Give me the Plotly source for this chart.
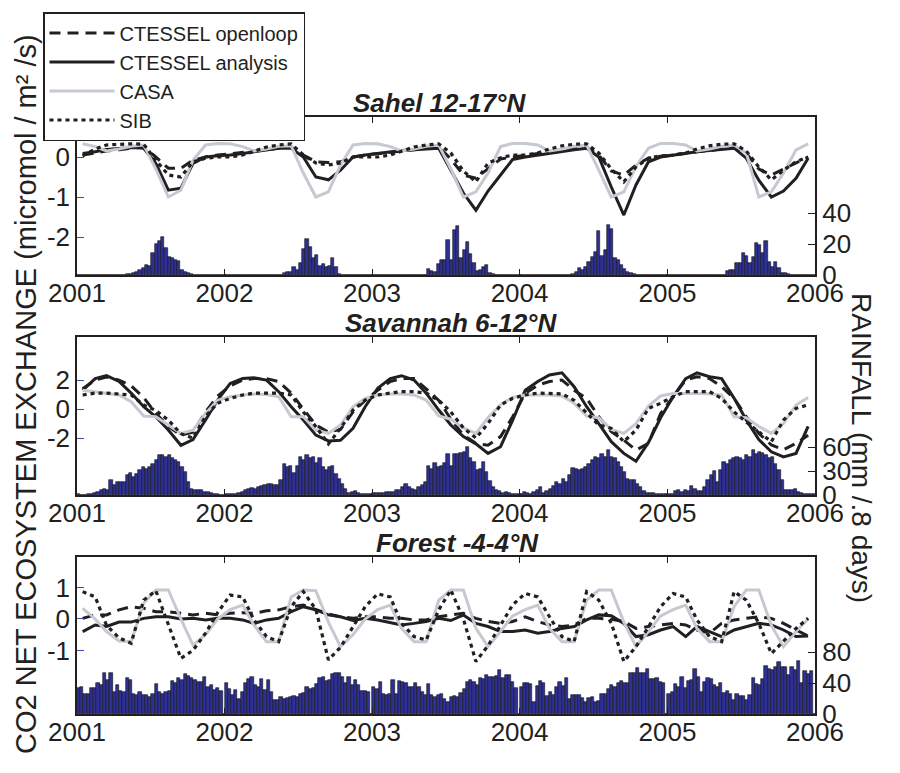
import pandas as pd
import plotly.graph_objects as go

YEARS = [2001, 2002, 2003, 2004, 2005]
YEAR_TICKS = ["2001", "2002", "2003", "2004", "2005", "2006"]
SERIES = ["CTESSEL openloop", "CTESSEL analysis", "CASA", "SIB"]
REGIONS = ["Sahel 12-17°N", "Savannah 6-12°N", "Forest -4-4°N"]

# ---- monthly NEE (micromol / m2 / s), Jan 2001 .. Dec 2005 ----
sahel_openloop = [
    0.05, 0.1, 0.15, 0.18, 0.22, 0.26, 0.0, -0.28, -0.28, -0.08, 0.0, 0.05,
    0.08, 0.12, 0.15, 0.18, 0.22, 0.25, 0.05, -0.12, -0.14, -0.12, 0.0, 0.05,
    0.08, 0.12, 0.15, 0.18, 0.22, 0.25, -0.05, -0.45, -0.53, -0.3, -0.05, 0.0,
    0.05, 0.1, 0.13, 0.16, 0.2, 0.24, 0.05, -0.35, -0.45, -0.2, -0.03, 0.02,
    0.05, 0.1, 0.13, 0.16, 0.2, 0.24, 0.1, -0.3, -0.45, -0.3, -0.15, 0.0]
sahel_analysis = [
    0.09, 0.13, 0.19, 0.22, 0.24, 0.22, -0.16, -0.83, -0.78, -0.16, 0.0, 0.03,
    0.05, 0.09, 0.13, 0.17, 0.22, 0.22, 0.0, -0.5, -0.57, -0.33, 0.0, 0.05,
    0.09, 0.13, 0.16, 0.18, 0.2, 0.22, -0.33, -0.9, -1.33, -0.85, -0.45, -0.06,
    0.0, 0.05, 0.1, 0.14, 0.18, 0.22, 0.0, -0.75, -1.45, -0.7, -0.12, 0.0,
    0.05, 0.09, 0.13, 0.16, 0.19, 0.22, -0.03, -0.58, -1.0, -0.85, -0.53, -0.03]
sahel_casa = [
    0.33, 0.26, 0.15, 0.2, 0.27, 0.3, -0.3, -1.0, -0.83, -0.08, 0.3, 0.34,
    0.33, 0.26, 0.15, 0.2, 0.27, 0.28, -0.4, -1.0, -0.87, -0.2, 0.3, 0.34,
    0.33, 0.26, 0.15, 0.2, 0.27, 0.3, -0.3, -1.0, -0.87, -0.4, 0.26, 0.34,
    0.34, 0.3, 0.15, 0.2, 0.27, 0.3, -0.33, -1.0, -0.87, -0.24, 0.22, 0.34,
    0.34, 0.3, 0.15, 0.2, 0.27, 0.3, 0.1, -1.0, -0.87, -0.4, 0.18, 0.33]
sahel_sib = [
    0.03, 0.2, 0.3, 0.32, 0.33, 0.32, -0.08, -0.45, -0.5, -0.12, -0.03, 0.0,
    0.0, 0.05, 0.15, 0.25, 0.3, 0.33, 0.05, -0.15, -0.2, -0.15, 0.0, 0.0,
    0.0, 0.05, 0.15, 0.25, 0.3, 0.33, 0.1, -0.35, -0.62, -0.15, -0.02, 0.05,
    0.05, 0.1, 0.2, 0.28, 0.32, 0.33, 0.1, -0.3, -0.62, -0.25, -0.03, 0.03,
    0.05, 0.1, 0.2, 0.28, 0.32, 0.33, 0.15, -0.25, -0.57, -0.33, -0.12, 0.0]

savannah_openloop = [
    1.4, 2.0, 2.2, 2.0, 1.6, 0.8, -0.3, -1.2, -1.8, -1.6, -0.2, 0.9,
    1.6, 2.0, 2.1, 2.1, 1.9, 1.1, 0.0, -1.1, -1.6, -1.4, -0.2, 0.6,
    1.3, 1.9, 2.1, 2.1, 1.4, 0.6, -0.7, -1.8, -2.37, -2.5, -1.9, -0.53,
    1.08, 1.65, 1.9, 2.0, 1.3, 0.74, -0.53, -1.56, -2.14, -2.83, -2.37, -0.3,
    0.85, 2.0, 2.23, 2.1, 1.54, 0.74, -0.53, -1.68, -2.48, -2.8, -2.37, -1.8]
savannah_analysis = [
    1.3, 2.1, 2.3, 1.9, 1.1, 0.16, -0.53, -1.45, -2.5, -2.1, -0.76, 0.62,
    1.77, 2.1, 2.15, 2.0, 1.2, 0.16, -0.76, -1.8, -2.2, -2.15, -1.33, 0.16,
    1.43, 2.1, 2.3, 2.0, 1.1, -0.07, -1.1, -1.9, -2.4, -3.06, -2.6, -0.76,
    1.3, 1.9, 2.35, 2.5, 1.54, 0.16, -1.0, -2.25, -3.06, -3.6, -2.3, -0.6,
    0.85, 2.1, 2.5, 2.23, 2.1, 0.74, -0.76, -2.1, -2.95, -3.3, -3.06, -1.2]
savannah_casa = [
    1.3, 1.2, 1.1, 0.97, 0.5, -0.48, -0.53, -1.1, -1.68, -1.45, -0.3, 0.6,
    0.85, 0.97, 1.03, 1.0, 0.85, -0.53, -0.53, -1.45, -1.68, -1.1, 0.16, 0.74,
    0.97, 1.03, 1.03, 0.97, 0.62, -0.48, -0.7, -1.3, -1.68, -0.6, 0.3, 0.8,
    0.97, 0.97, 0.97, 0.9, 0.4, -0.48, -0.6, -1.4, -1.68, -1.0, 0.2, 0.9,
    1.08, 1.08, 1.08, 1.05, 0.95, -0.53, -0.6, -1.2, -1.68, -1.0, 0.28, 0.8]
savannah_sib = [
    0.97, 1.1, 1.1, 1.05, 0.97, 0.28, -0.1, -0.76, -1.7, -2.0, -0.5, 0.4,
    0.74, 0.97, 1.1, 1.1, 1.1, 0.97, -0.2, -1.2, -2.4, -1.33, -0.07, 0.62,
    0.97, 1.1, 1.2, 1.2, 1.1, 0.6, -0.2, -1.3, -2.0, -1.0, 0.28, 0.74,
    0.97, 1.1, 1.1, 1.05, 0.6, -0.3, -1.1, -1.33, -2.25, -1.45, 0.05, 0.4,
    0.85, 1.2, 1.2, 1.2, 0.74, -0.2, -0.9, -1.6, -2.25, -0.76, 0.05, 0.28]

forest_openloop = [
    0.02, 0.13, 0.13, 0.29, 0.39, 0.34, 0.23, 0.23, 0.18, 0.13, 0.18, 0.13,
    0.18, 0.2, 0.18, 0.26, 0.29, 0.39, 0.44, 0.29, 0.16, 0.07, 0.02, 0.07,
    0.07, 0.02, 0.02, -0.03, -0.03, 0.07, 0.13, 0.18, 0.02, -0.08, -0.14, -0.08,
    0.07, -0.08, -0.19, -0.24, -0.19, 0.02, 0.02, -0.01, -0.08, -0.3, -0.24, -0.19,
    -0.14, -0.19, -0.35, -0.45, -0.14, -0.03, 0.02, 0.07, 0.02, -0.14, -0.35, -0.54]
forest_analysis = [
    -0.4, -0.19, -0.24, -0.1, -0.1, 0.02, 0.07, 0.07, 0.0, 0.02, -0.03, 0.02,
    0.02, -0.03, -0.14, -0.03, 0.02, 0.23, 0.39, 0.29, 0.13, 0.07, -0.05, 0.02,
    -0.03, -0.12, -0.19, -0.14, -0.08, 0.02, -0.05, 0.13, -0.14, -0.24, -0.4, -0.4,
    -0.35, -0.45, -0.4, -0.3, -0.24, -0.03, 0.13, 0.1, -0.14, -0.56, -0.5, -0.35,
    -0.24, -0.56, -0.24, -0.4, -0.56, -0.35, -0.24, -0.14, -0.19, -0.35, -0.56, -0.54]
forest_casa = [
    0.34, 0.0, -0.4, -0.7, -0.72, 0.5, 0.92, 0.92, 0.0, -0.83, -0.5, 0.0,
    0.3, 0.44, -0.2, -0.72, -0.72, 0.7, 0.92, 0.9, -0.1, -0.88, -0.5, 0.0,
    0.3, 0.44, -0.3, -0.72, -0.72, 0.6, 0.92, 0.92, -0.3, -0.88, -0.4, 0.1,
    0.3, 0.44, -0.3, -0.72, -0.72, 0.6, 0.92, 0.92, -0.1, -0.88, -0.4, 0.1,
    0.3, 0.44, -0.3, -0.72, -0.72, 0.4, 0.92, 0.92, -0.2, -0.88, -0.4, 0.0]
forest_sib = [
    0.87, 0.7, -0.2, -0.6, -0.77, 0.6, 0.9, -0.14, -1.25, -1.0, -0.45, 0.2,
    0.76, 0.7, -0.03, -0.56, -0.72, 0.39, 0.87, 0.3, -1.3, -0.9, -0.25, 0.39,
    0.8, 0.7, -0.14, -0.56, -0.67, 0.29, 0.92, 0.0, -1.35, -0.85, -0.2, 0.45,
    0.81, 0.7, 0.07, -0.56, -0.72, 0.87, 0.6, -0.14, -1.35, -0.88, -0.25, 0.39,
    0.81, 0.7, -0.03, -0.56, -0.72, 0.87, 0.6, -0.14, -1.1, -0.7, -0.3, 0.02]

# ---- 8-day rainfall (mm / 8 days), 46 periods per year ----
sahel_rain = (
    [0] * 15 + [0.5, 0.5, 1, 2.2, 3.2, 4.7, 6.2, 6, 14, 20, 22, 24.7, 17.6, 11.8,
                10.8, 9.7, 9, 3.2, 2.2, 1, 0.5] + [0] * 10
    + [0] * 18 + [1, 2, 2, 5, 3, 7.5, 16.5, 23, 18, 11, 13, 6, 7, 5, 6, 11, 5, 0.6] + [0] * 10
    + [0] * 17 + [3.9, 2.8, 2, 7, 10, 10, 22.6, 9.7, 29, 31.6, 10.8, 16, 21.5, 13.5,
                  7.5, 2.6, 3.2, 5.4, 6.7, 1.5, 0.5] + [0] * 8
    + [0] * 16 + [0.6, 2, 4.7, 3.2, 5.4, 8.6, 11.4, 14.6, 28.6, 12.2, 16, 32, 29.5,
                  10.8, 10, 6.5, 3.9, 2, 1, 0.5] + [0] * 10
    + [0] * 18 + [2.8, 3.2, 3.2, 8, 8, 14.4, 12.2, 7.5, 11.8, 20.4, 19.4, 14, 22.2,
                  8.6, 5.4, 8.6, 4.3, 1.5, 1, 0.5] + [0] * 8
)
savannah_rain = [
    1, 0.5, 0.5, 1, 1.5, 3, 4, 5.7, 7, 5.7, 19, 12, 16, 16, 16, 24.7, 27.6, 22.6, 26, 31,
    35, 33, 35, 39.5, 44.5, 50, 50, 47.9, 50, 45.8, 44.5, 41.6, 35, 29, 16, 7.8, 6.5, 5.7,
    5.7, 4.4, 4.4, 2.3, 1.5, 1.5, 0.5, 0.5,
    1, 1, 1, 1, 2, 3.6, 5.7, 7.8, 8.5, 7.8, 10, 10.8, 12, 13.3, 14, 12, 12, 18.4, 38.6, 35,
    36, 27.6, 37, 47.9, 43.7, 50, 45.8, 47.9, 40.3, 45.8, 35, 31, 35, 37, 26.8, 20.5, 14,
    7.8, 2.3, 3.6, 4.9, 2.3, 1, 1, 1, 1,
    2, 2, 2, 2, 4.4, 4.4, 4.4, 5.7, 6.5, 10, 14, 10, 7.8, 6.5, 10, 12, 16, 37, 32, 40,
    35, 37, 40, 52, 37, 52, 52, 53, 54, 59.7, 45.8, 41.6, 31, 33, 41.6, 29, 17.5, 10, 5.7,
    4.9, 2.3, 3.6, 2.3, 1.3, 1, 1,
    1, 3.6, 2.3, 1, 3.6, 5.7, 10, 2.3, 4.9, 7.8, 10.8, 16, 14, 20.5, 16, 24.7, 34.4, 32.3,
    31, 32, 35, 39.5, 43.7, 47.9, 45.8, 52, 47.9, 56.3, 47.9, 47, 41.6, 35, 29, 20.5, 18.4,
    19, 14, 10, 4.9, 2.3, 2.3, 2.3, 1, 1, 1, 1,
    1, 1, 4.9, 5.7, 3.6, 5.7, 4.9, 10.8, 7.8, 4.9, 4.9, 10, 18.4, 24.7, 30.6, 16, 31, 41.6,
    39.5, 43.7, 45.8, 47.9, 47, 44.5, 50, 47.9, 57, 52, 54, 53, 50, 45.8, 47.9, 39.5, 31,
    18.4, 5.7, 6.5, 6.5, 7.8, 3.6, 2.7, 1.5, 1.5, 1, 1]
forest_rain = [
    33, 34.3, 25.6, 26.4, 33, 33, 39.6, 37.4, 52.7, 44, 53.6, 28.6, 37.4, 30, 28.6, 46, 44,
    26.4, 24.3, 28.6, 24.3, 24.3, 22, 26.4, 38.3, 28.6, 26.4, 28.6, 30, 42.6, 39.6, 46, 44,
    51.8, 49.2, 46, 44, 41.7, 41.7, 47.4, 35.2, 37.4, 30.8, 33, 30, 0,
    39.6, 31.7, 24.3, 30.8, 20, 28.6, 39.6, 44.8, 47.4, 37.4, 35.2, 44.8, 30.8, 44, 28.6,
    17.7, 18.6, 22, 20, 20.8, 22, 22.9, 22, 25.6, 27.3, 34.3, 31.7, 33, 38.7, 46, 47.4, 43,
    44, 51.8, 52.7, 52.7, 48.3, 39.6, 48.3, 37.4, 44, 37.4, 30, 30, 28, 0,
    35.2, 31.7, 41.7, 26.4, 24.3, 25.6, 44, 26.4, 43, 41.7, 39.6, 35.2, 35.2, 39.6, 34.3,
    28.6, 24.3, 38.7, 24.3, 22, 24.3, 25.6, 20, 15.5, 22, 22.7, 22, 27.3, 31.7, 41.7, 44,
    41.7, 37.4, 46, 44.8, 50.5, 48.3, 48.3, 49.2, 57, 46, 50.5, 50.5, 41.7, 33, 0,
    35.2, 39.6, 39.6, 38.7, 15.5, 36, 43, 39.6, 23, 28.6, 25, 34.3, 41.7, 36, 46, 20, 25,
    25, 24.3, 20.8, 15.5, 20.8, 22, 15.5, 16.8, 26.4, 25.6, 31.7, 37.4, 35.2, 39.6, 43,
    40.4, 39.6, 52.7, 52.7, 59.2, 53.6, 53.6, 58, 44.8, 44.8, 46, 41.7, 40, 0,
    25.6, 28.6, 38.7, 34.3, 48.3, 33, 43, 44, 58, 47.4, 28.6, 41.7, 46, 44.8, 37.4, 35.2,
    39.6, 27.3, 29.5, 25.6, 18.6, 26.4, 23, 23, 17.7, 25, 46, 38.3, 37.4, 44.8, 62.3, 58,
    57, 60.5, 66.7, 60.5, 61.4, 50.5, 60.5, 57, 68, 40.4, 56.2, 52, 55, 0]

# ---- tick values ----
nee_ticks = [[-2, -1, 0], [-2, 0, 2], [-1, 0, 1]]
rain_ticks = [[0, 20, 40], [0, 30, 60], [0, 40, 80]]
nee_ranges = [[-2.95, 1.0], [-5.93, 4.97], [-3.02, 1.97]]
rain_ranges = [[0, 102], [0, 198], [0, 203]]

months = pd.date_range("2001-01-01", periods=60, freq="MS") + pd.Timedelta(days=14)
rain_dates = [pd.Timestamp(f"{y}-01-01") + pd.Timedelta(days=8 * k + 4)
              for y in YEARS for k in range(46)]
year_starts = [f"{t}-01-01" for t in YEAR_TICKS]

nee = [
    [sahel_openloop, sahel_analysis, sahel_casa, sahel_sib],
    [savannah_openloop, savannah_analysis, savannah_casa, savannah_sib],
    [forest_openloop, forest_analysis, forest_casa, forest_sib],
]
rain = [sahel_rain, savannah_rain, forest_rain]

INK = "#231f20"
BAR = "#2e3192"
GRAY = "#c6c9d1"
FONT = "Liberation Sans, Arial, sans-serif"
styles = [
    dict(color=INK, width=3, dash="11px,7px"),
    dict(color=INK, width=3, dash="solid"),
    dict(color=GRAY, width=3, dash="solid"),
    dict(color=INK, width=3.2, dash="4px,4px"),
]

fig = go.Figure()
domains = [[0.7353, 1.0], [0.3668, 0.6315], [0.0, 0.263]]

for p in range(3):
    xa = "x" if p == 0 else f"x{p + 1}"
    yr = "y" if p == 0 else f"y{2 * p + 1}"
    yn = f"y{2 * p + 2}"
    fig.add_trace(go.Bar(
        x=rain_dates, y=rain[p], xaxis=xa, yaxis=yr, showlegend=False,
        width=8 * 86400000, marker=dict(color=BAR, line=dict(color="#111111", width=0.6)),
        name="Rainfall"))
    for s in range(4):
        fig.add_trace(go.Scatter(
            x=months, y=nee[p][s], xaxis=xa, yaxis=yn, mode="lines",
            line=styles[s], name=SERIES[s], showlegend=(p == 0),
            legendrank=s + 1))

FIG_W, FIG_H = 892, 765   # the page body adds an 8 px margin around the figure
tickfont = dict(family=FONT, size=26, color=INK)
layout = dict(
    width=FIG_W, height=FIG_H,
    margin=dict(l=69, r=85, t=109, b=59, autoexpand=False),
    paper_bgcolor="white", plot_bgcolor="white",
    bargap=0, barmode="overlay",
    font=dict(family=FONT, color=INK),
    showlegend=True,
    legend=dict(xref="container", yref="container",
                x=35 / FIG_W, y=1 - 4 / FIG_H, xanchor="left", yanchor="top",
                bgcolor="white", bordercolor=INK, borderwidth=1.5,
                font=dict(family=FONT, size=20, color=INK),
                itemwidth=65, tracegroupgap=0, traceorder="normal"),
)
for p in range(3):
    xk = "xaxis" if p == 0 else f"xaxis{p + 1}"
    rk = "yaxis" if p == 0 else f"yaxis{2 * p + 1}"
    nk = f"yaxis{2 * p + 2}"
    ranchor = "y" if p == 0 else f"y{2 * p + 1}"
    xanchor = "x" if p == 0 else f"x{p + 1}"
    layout[xk] = dict(
        domain=[0, 1], anchor=ranchor, type="date",
        range=["2001-01-01", "2006-01-01"],
        tickvals=year_starts, ticktext=YEAR_TICKS,
        ticks="inside", ticklen=6, tickwidth=1.2, tickcolor=INK,
        showline=True, linecolor=INK, linewidth=2, mirror="ticks",
        showgrid=False, zeroline=False, tickfont=tickfont, ticklabelstandoff=-6)
    layout[rk] = dict(
        domain=domains[p], anchor=xanchor, side="right", range=rain_ranges[p],
        tickvals=rain_ticks[p], ticktext=[str(v) for v in rain_ticks[p]],
        ticks="inside", ticklen=7, tickwidth=1.2, tickcolor=INK,
        showline=True, linecolor=INK, linewidth=2, mirror=True,
        showgrid=False, zeroline=False, tickfont=tickfont)
    layout[nk] = dict(
        overlaying=ranchor, anchor=xanchor, side="left", range=nee_ranges[p],
        tickvals=nee_ticks[p], ticktext=[str(v) for v in nee_ticks[p]],
        ticks="inside", ticklen=7, tickwidth=1.2, tickcolor="#3b4db0",
        showline=False, showgrid=False, zeroline=False, tickfont=tickfont,
        ticklabelstandoff=6)

fig.update_layout(**layout)

def px_x(px):
    return (px - 77) / 738.0

def px_y(py):
    return (714 - py) / 597.0

title_pos = [(439, 103), (451, 323), (457, 543)]
for name, (cx, cy) in zip(REGIONS, title_pos):
    fig.add_annotation(text=f"<b><i>{name}</i></b>", xref="paper", yref="paper",
                       x=px_x(cx), y=px_y(cy), xanchor="center", yanchor="middle",
                       showarrow=False, font=dict(family=FONT, size=26, color=INK))

fig.add_annotation(text="CO2 NET ECOSYSTEM EXCHANGE (micromol / m² /s)",
                   xref="paper", yref="paper", x=px_x(26), y=px_y(394),
                   xanchor="center", yanchor="middle", textangle=-90, showarrow=False,
                   font=dict(family=FONT, size=29, color=INK))
fig.add_annotation(text="RAINFALL (mm /.8 days)",
                   xref="paper", yref="paper", x=px_x(862), y=px_y(448),
                   xanchor="center", yanchor="middle", textangle=90, showarrow=False,
                   font=dict(family=FONT, size=28, color=INK))

fig.write_html("out.html")
